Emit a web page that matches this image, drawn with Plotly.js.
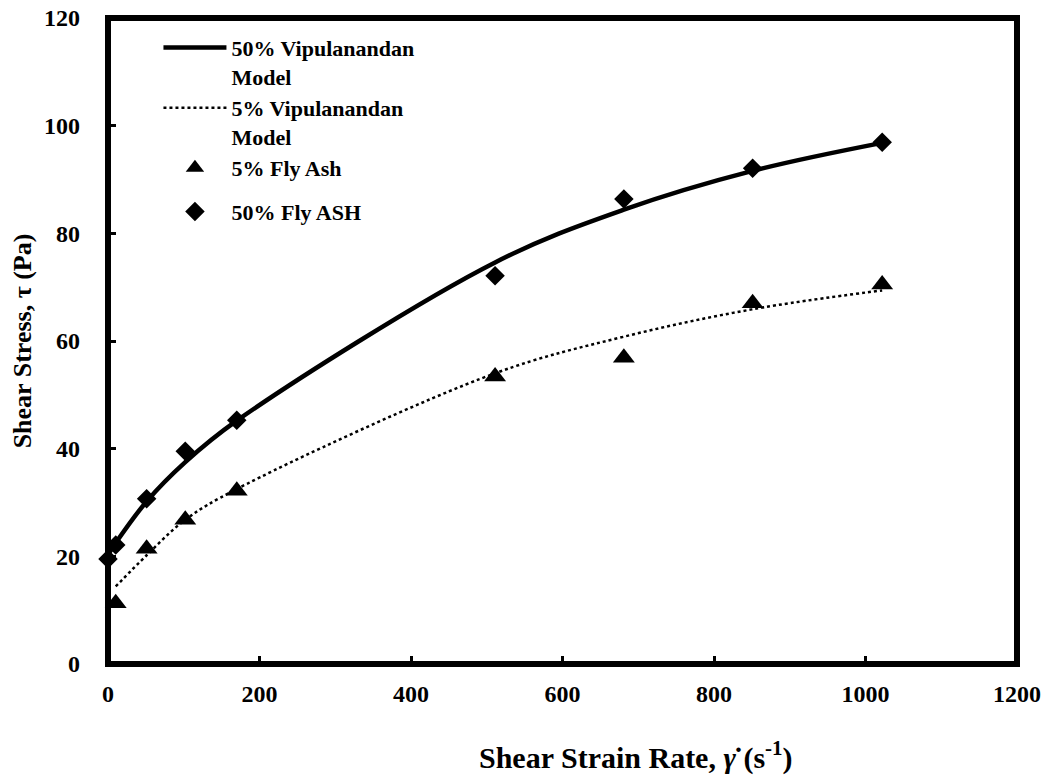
<!DOCTYPE html>
<html>
<head>
<meta charset="utf-8">
<script src="https://cdn.plot.ly/plotly-3.0.1.min.js"></script>
<style>html,body{margin:0;padding:0;background:#fff;}#chart{width:1048px;height:775px;}</style>
</head>
<body>
<div id="chart"></div>
<script>
// Measured data (shear strain rate in 1/s, shear stress in Pa)
const rate50 = [0, 10.2, 51, 102, 170, 511, 681, 851, 1022];
const stress50 = [19.5, 22.1, 30.7, 39.5, 45.3, 72.1, 86.4, 92.1, 96.9];
const rate5 = [10.2, 51, 102, 170, 511, 681, 851, 1022];
const stress5 = [11.3, 21.4, 26.8, 32.2, 53.4, 56.9, 67.0, 70.5];
// Vipulanandan model curves
const model50Rate = [0, 10.2, 51, 102, 170, 511, 681, 851, 1022];
const model50Stress = [20.3, 22.5, 30.2, 37.5, 45.2, 74.6, 84.4, 91.6, 96.8];
const model5Rate = [10.2, 51, 102, 170, 511, 681, 851, 1022];
const model5Stress = [14.4, 20.2, 26.8, 32.5, 54.0, 60.8, 65.9, 69.4];

const names = ["50% Vipulanandan<br>Model", "5% Vipulanandan<br>Model", "5% Fly Ash", "50% Fly ASH"];
const xTicks = [0, 200, 400, 600, 800, 1000, 1200];
const yTicks = [0, 20, 40, 60, 80, 100, 120];
const xTitle = 'Shear Strain Rate, <i>γ̇</i> (s<sup>-1</sup>)';
const yTitle = 'Shear Stress, τ (Pa)';

const serif = 'Liberation Serif, Times New Roman, serif';

const traces = [
  {x: model50Rate, y: model50Stress, mode: 'lines', name: names[0], legendgroup: 'a',
   line: {color: '#000', width: 4.5, shape: 'spline'}, cliponaxis: false},
  {x: model5Rate, y: model5Stress, mode: 'lines', name: names[1], legendgroup: 'a',
   line: {color: '#000', width: 2.5, dash: 'dot', shape: 'spline'}, cliponaxis: false},
  {x: rate5, y: stress5, mode: 'markers', name: names[2], legendgroup: 'a',
   marker: {symbol: 'triangle-up', size: 19, color: '#000'}, cliponaxis: false},
  {x: rate50, y: stress50, mode: 'markers', name: names[3], legendgroup: 'b',
   marker: {symbol: 'diamond', size: 15, color: '#000'}, cliponaxis: false}
];

const layout = {
  width: 1048, height: 775,
  margin: {l: 107.5, r: 31.3, t: 18.3, b: 111, pad: 0},
  paper_bgcolor: '#fff', plot_bgcolor: '#fff',
  font: {family: serif, color: '#000', size: 22, weight: 'bold'},
  showlegend: true,
  legend: {x: 0.0555, y: 0.9866, xanchor: 'left', yanchor: 'top', bgcolor: 'rgba(0,0,0,0)',
           font: {family: serif, size: 22, weight: 'bold'},
           itemwidth: 63, valign: 'top', traceorder: 'grouped', tracegroupgap: 12},
  xaxis: {range: [0, 1200], tickvals: xTicks, ticktext: xTicks.map(String),
          ticks: 'inside', ticklen: 8, tickwidth: 3, tickcolor: '#000',
          showgrid: false, zeroline: false, showline: false, ticklabelstandoff: 13,
          tickfont: {family: serif, size: 24, weight: 'bold'}},
  yaxis: {range: [0, 120], tickvals: yTicks, ticktext: yTicks.map(String),
          ticks: 'inside', ticklen: 8, tickwidth: 3, tickcolor: '#000',
          showgrid: false, zeroline: false, showline: false, ticklabelstandoff: 27,
          tickfont: {family: serif, size: 24, weight: 'bold'},
          title: {text: yTitle, font: {family: serif, size: 26, weight: 'bold'}, standoff: 4}},
  annotations: [{text: xTitle, xref: 'paper', yref: 'paper', x: 0.581, y: -0.141,
                 xanchor: 'center', yanchor: 'middle', showarrow: false,
                 font: {family: serif, size: 30, weight: 'bold'}}],
  shapes: [{type: 'rect', xref: 'paper', yref: 'paper', x0: 0, x1: 1, y0: 0, y1: 1,
            line: {color: '#000', width: 6}, layer: 'above'}]
};

Plotly.newPlot('chart', traces, layout, {displayModeBar: false, staticPlot: true});
</script>
</body>
</html>
